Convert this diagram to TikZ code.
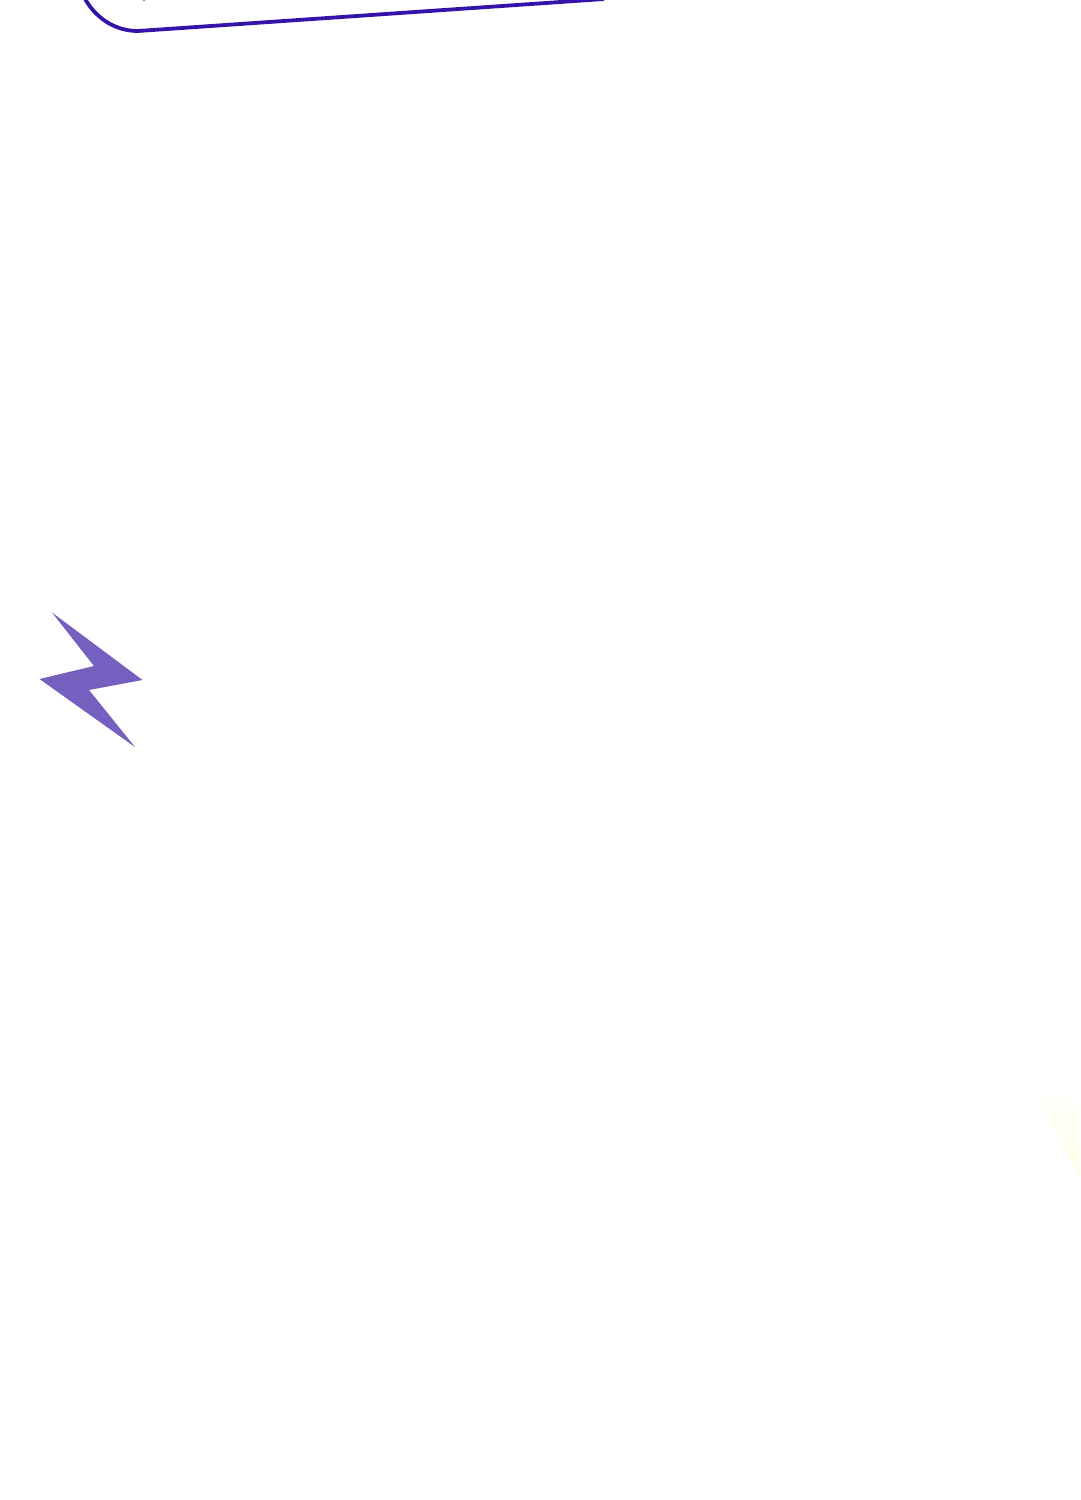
\documentclass[tikz,border=0pt]{standalone}
\definecolor{boxline}{HTML}{3414A8}
\definecolor{boltfill}{HTML}{7560BF}
\definecolor{markred}{HTML}{F56070}
\definecolor{paleyellow}{HTML}{FFFFE6}
\begin{document}
\begin{tikzpicture}[x=1pt,y=-1pt]
\useasboundingbox (0,0) rectangle (1080,1500);
\clip (0,0) rectangle (1080,1500);
\fill[white] (0,0) rectangle (1080,1500);
% pale yellow wedge at the right edge
\shade[left color=white,right color=paleyellow,shading angle=0]
  (1030,1088) -- (1080,1090) -- (1080,1177) -- cycle;
% rounded box, cut off by the top edge
\draw[boxline,line width=3.8pt,line join=round]
  (84,-3) .. controls (94,16) and (113,31) .. (138,31) -- (604,-1);
% red remnant at the top edge
\fill[markred] (140,-2) -- (148,-2) -- (144,1.2) -- cycle;
% lightning bolt
\fill[boltfill]
  (52,612.5) -- (142.5,680) -- (89,690) -- (135,747) -- (39.5,679) -- (94,666) -- cycle;
\end{tikzpicture}
\end{document}
